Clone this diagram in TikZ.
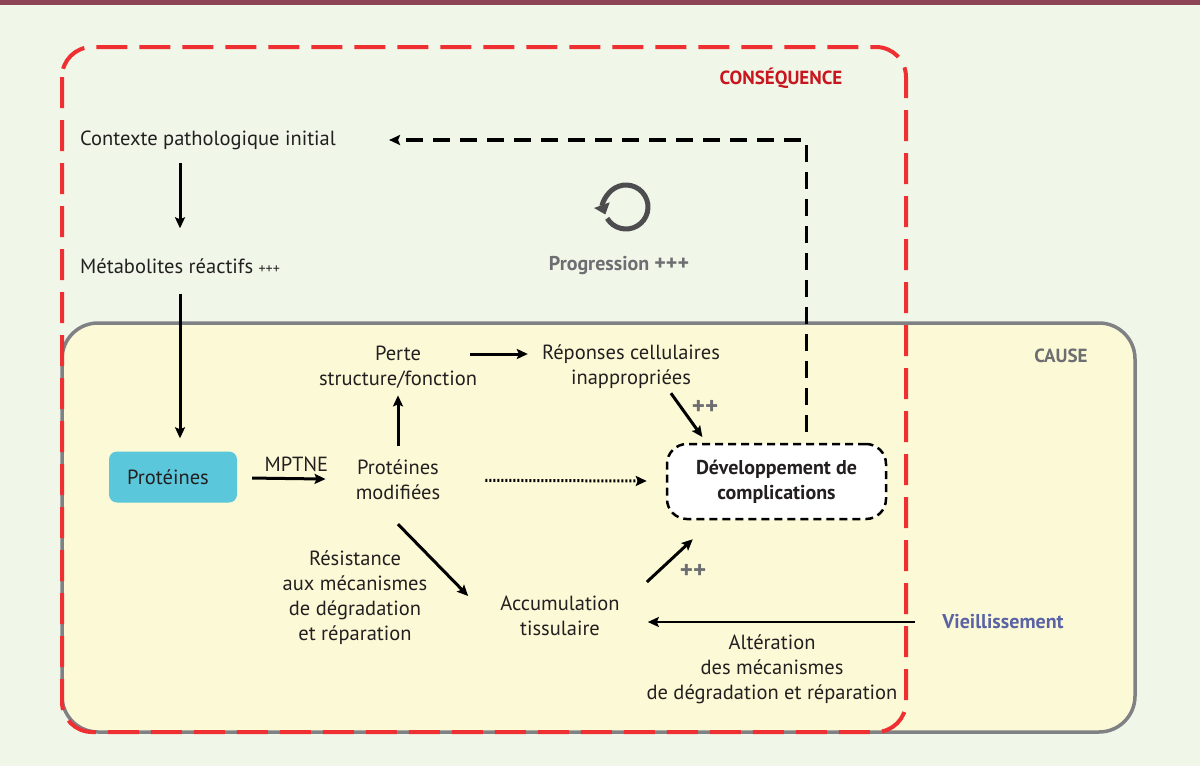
\documentclass[tikz,border=0pt]{standalone}
\usepackage{fontspec}
\setmainfont{PT Sans}
\usetikzlibrary{arrows.meta}

\definecolor{fond}{HTML}{F0F7E9}
\definecolor{barre}{HTML}{8E4556}
\definecolor{jaune}{HTML}{FCFAD6}
\definecolor{rouge}{HTML}{EE3032}
\definecolor{rougeT}{HTML}{C9161E}
\definecolor{grisL}{HTML}{808184}
\definecolor{grisT}{HTML}{6D6E71}
\definecolor{icone}{HTML}{4D4D4F}
\definecolor{cyan}{HTML}{5BC7DB}
\definecolor{bleuT}{HTML}{5A63A3}
\definecolor{noirT}{HTML}{231F20}

\begin{document}
\begin{tikzpicture}[x=1pt,y=-1pt,
    txt/.style={align=center,inner sep=0pt,text=noirT,font=\fontsize{20.5}{25}\selectfont},
    bld/.style={txt,font=\fontsize{20}{25}\selectfont\bfseries},
    arr/.style={-{Stealth[length=11pt,width=10pt,inset=2pt]},line width=3pt,draw=black}]
    % fond et cadres
    \fill[fond] (0,0) rectangle (1200,766);
    \fill[barre] (0,0) rectangle (1200,5);
    \draw[grisL,fill=jaune,line width=3.5pt,rounded corners=36pt] (62,323) rectangle (1135,732);
    \draw[rouge,line width=4pt,rounded corners=30pt,dash pattern=on 31pt off 12pt] (62,47) rectangle (906,732);

    \node[bld,text=rougeT,font=\fontsize{19}{24}\selectfont\bfseries] (cons)  at (781,78)  {CONSÉQUENCE};
    \node[bld,text=grisT,font=\fontsize{19}{24}\selectfont\bfseries]  (cause) at (1061,356) {CAUSE};

    \node[txt,anchor=west] (ctx) at (80,140) {Contexte pathologique initial};
    \node[txt,anchor=west] (met) at (80,266) {Métabolites réactifs {\fontsize{14}{17}\selectfont +++}};
    \node[txt,fill=cyan,rounded corners=8pt,minimum width=128pt,minimum height=51pt] (prot) at (173,477) {Protéines\hspace{10pt}};
    \node[txt] (mod)   at (398,480) {Protéines\\modifiées};
    \node[txt] (perte) at (398,367) {Perte\\structure/fonction};
    \node[txt] (rep)   at (631,367) {Réponses cellulaires\\inappropriées};
    \node[bld,draw=black,fill=white,line width=2.5pt,dash pattern=on 8pt off 5pt,rounded corners=20pt,
          minimum width=219pt,minimum height=75pt] (dev) at (776.5,481.5) {Développement de\\complications};
    \node[txt] (res)   at (355,598) {Résistance\\aux mécanismes\\de dégradation\\et réparation};
    \node[txt] (acc)   at (560,616) {Accumulation\\tissulaire};
    \node[txt] (alt)   at (772,669) {Altération\\des mécanismes\\de dégradation et réparation};
    \node[bld,text=bleuT] (vie)  at (1003,622) {Vieillissement};
    \node[bld,text=grisT] (prog) at (619,266) {Progression \fontsize{22}{25}\selectfont+++};
    \node[bld,text=grisT,font=\fontsize{25}{25}\selectfont\bfseries] (ppA) at (705,407) {++};
    \node[bld,text=grisT,font=\fontsize{25}{25}\selectfont\bfseries] (ppB) at (693,571) {++};

    % icone de progression
    \node[inner sep=0pt,minimum size=44pt] (cycle) at (626,207) {};
    \draw[icone,line width=5pt,-{Triangle[length=10pt,width=16pt]}]
        (cycle.center) ++(149:22) arc[start angle=149,end angle=-200,radius=22];

    % connecteurs
    \draw[arr,shorten <=13pt,shorten >=30pt] (ctx.south -| 180,0) -- (met.north -| 180,0);
    \draw[arr,shorten <=20pt,shorten >=13pt] (met.south -| 180,0) -- (prot.north -| 180,0);
    \draw[arr,shorten <=15pt,shorten >=30pt] (prot) -- node[txt,above=5pt]{MPTNE} (mod);
    \draw[arr,shorten <=14pt,shorten >=7pt] (mod) -- (perte);
    \draw[arr,shorten >=14pt] ([xshift=72pt,yshift=13pt]perte.center) -- ([yshift=13pt]perte.center -| rep.west);
    \draw[arr,shorten <=5pt,shorten >=7pt] ([xshift=37pt]rep.south) -- ([xshift=-70pt]dev.north);
    \draw[arr,dash pattern=on 2pt off 2pt,shorten <=45pt,shorten >=19pt] (mod) -- (dev);
    \draw[arr,line width=3.2pt,dash pattern=on 17pt off 10pt,shorten <=11pt,shorten >=53pt]
        ([xshift=30pt]dev.north) |- (ctx.east);
    \draw[arr] ([yshift=-24pt]mod.south) -- ([xshift=-32pt,yshift=20pt]acc.west);
    \draw[arr] ([xshift=27pt,yshift=34pt]acc.east) -- ([xshift=27pt,yshift=-19pt]dev.south west);
    \draw[arr,line width=2pt,shorten <=27pt,shorten >=28pt] (vie.west) -- (vie.west -| acc.east);
\end{tikzpicture}
\end{document}
